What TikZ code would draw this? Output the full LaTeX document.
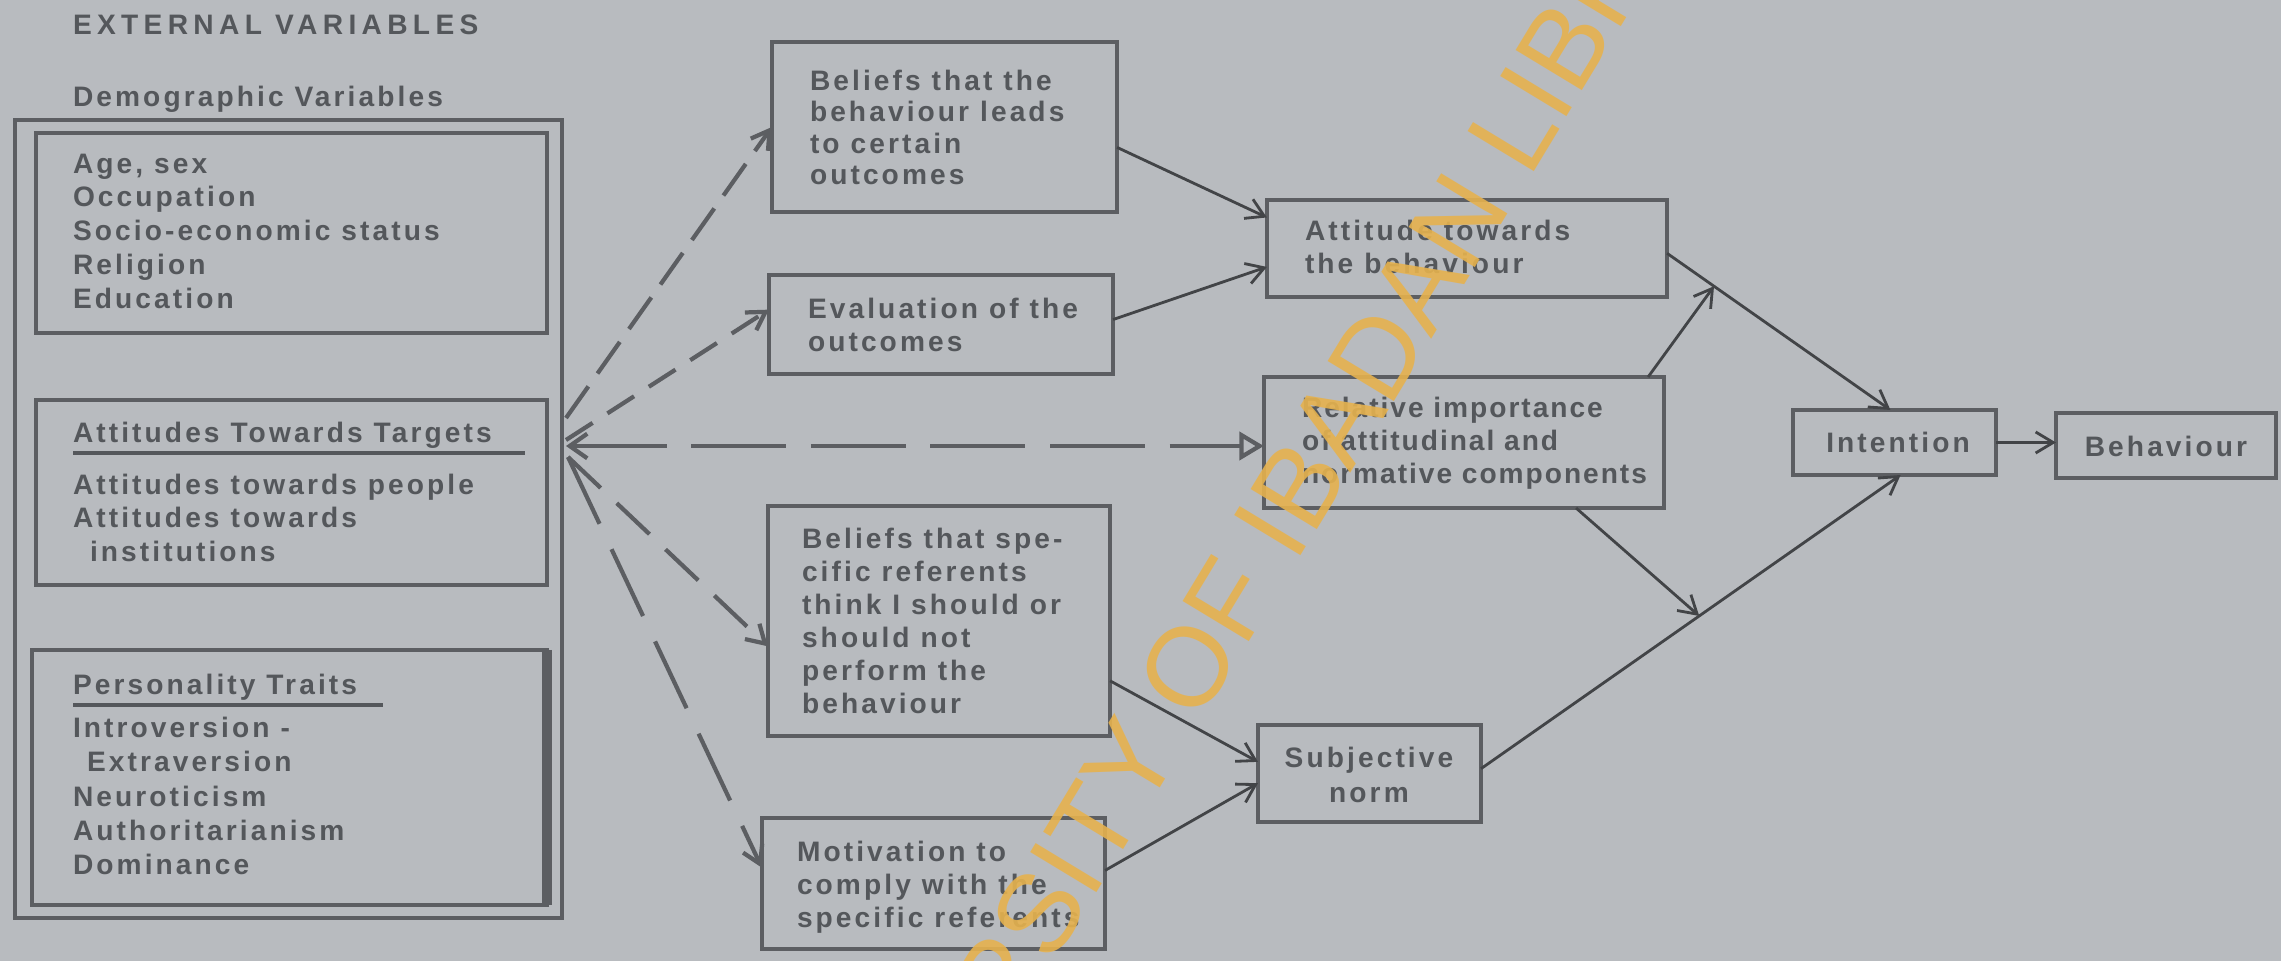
\documentclass[tikz,border=0pt]{standalone}
\usepackage{fontspec}
\setmainfont{Liberation Sans}
\newfontfamily\lab{Liberation Sans}[LetterSpace=11]
\newfontfamily\labn{Liberation Sans}[LetterSpace=7]
\newfontfamily\hdr{Liberation Sans}[LetterSpace=19]
\newfontfamily\wmf{Liberation Sans}
\usetikzlibrary{calc,arrows.meta}
\definecolor{bgc}{RGB}{184,187,191}
\definecolor{inkc}{RGB}{84,87,91}
\definecolor{linec}{RGB}{92,94,98}
\definecolor{arrc}{RGB}{66,68,71}
\definecolor{wmc}{RGB}{230,178,78}
\begin{document}
\begin{tikzpicture}[x=0.01cm,y=-0.01cm,
  box/.style={draw=linec, line width=1.15pt, inner sep=0pt, outer sep=0pt},
  lbl/.style={inner sep=0pt, outer sep=0pt, text=inkc, align=left, anchor=north west},
  one/.style={inner sep=0pt, outer sep=0pt, text=inkc, anchor=base west, font=\lab\bfseries\fontsize{8}{9.6}\selectfont},
  conn/.style={draw=arrc, line width=0.8pt, -{Straight Barb[length=5pt,width=6pt]}},
  dsh/.style={draw=linec, line width=1.2pt, -{Straight Barb[length=5pt,width=6pt]}},
  uline/.style={draw=inkc, line width=1.1pt}
]
\useasboundingbox (0,0) rectangle (2281,961);
\clip (0,0) rectangle (2281,961);
\fill[bgc] (0,0) rectangle (2281,961);

% headings
\node[one, font=\hdr\bfseries\fontsize{8}{9.6}\selectfont] (ext) at (73,35) {EXTERNAL VARIABLES};
\node[one] (demo) at (73,107) {Demographic Variables};

% left column boxes
\node[box, minimum width=5.47cm, minimum height=7.98cm] (outer) at (288.5,519) {};
\node[box, minimum width=5.11cm, minimum height=2.00cm] (d) at (291.5,233) {};
\node[box, minimum width=5.11cm, minimum height=1.85cm] (a) at (291.5,492.5) {};
\node[box, minimum width=5.15cm, minimum height=2.55cm] (p) at (289.5,777.5) {};
\draw[draw=linec, line width=3pt] (p.north east) -- (p.south east);

\node[lbl, font=\lab\bfseries\fontsize{8}{9.6}\selectfont] (dtxt) at (73,149.4)
  {\strut Age, sex\\\strut Occupation\\\strut Socio-economic status\\\strut Religion\\\strut Education};

\node[one] (tgt) at (73,443) {Attitudes Towards Targets};
\draw[uline] ($(tgt.base west)+(0,10)$) -- ($(tgt.base west)+(452,10)$);
\node[lbl, font=\lab\bfseries\fontsize{8}{9.6}\selectfont] (atxt) at (73,470.4)
  {\strut Attitudes towards people\\\strut Attitudes towards\\\strut\hspace*{0.17cm}institutions};

\node[one] (pers) at (73,695) {Personality Traits};
\draw[uline] ($(pers.base west)+(0,10)$) -- ($(pers.base west)+(310,10)$);
\node[lbl, font=\lab\bfseries\fontsize{8}{9.7}\selectfont] (ptxt) at (73,714)
  {\strut Introversion -\\\strut\hspace*{0.14cm}Extraversion\\\strut Neuroticism\\\strut Authoritarianism\\\strut Dominance};

% middle column
\node[box, minimum width=3.45cm, minimum height=1.70cm] (b1) at (944.5,127) {};
\node[lbl, font=\lab\bfseries\fontsize{8}{9.0}\selectfont] (b1t) at (810,67.9)
  {\strut Beliefs that the\\\strut behaviour leads\\\strut to certain\\\strut outcomes};
\node[box, minimum width=3.44cm, minimum height=0.99cm] (b2) at (941,324.5) {};
\node[lbl, font=\lab\bfseries\fontsize{8}{9.6}\selectfont] (b2t) at (808,294.4)
  {\strut Evaluation of the\\\strut outcomes};
\node[box, minimum width=3.42cm, minimum height=2.30cm] (bs) at (939,621) {};
\node[lbl, font=\lab\bfseries\fontsize{8}{9.39}\selectfont] (bst) at (802,524.9)
  {\strut Beliefs that spe-\\\strut cific referents\\\strut think I should or\\\strut should not\\\strut perform the\\\strut behaviour};
\node[box, minimum width=3.43cm, minimum height=1.31cm] (mo) at (933.5,883.5) {};
\node[lbl, font=\lab\bfseries\fontsize{8}{9.25}\selectfont] (mot) at (797,839.2)
  {\strut Motivation to\\\strut comply with the\\\strut specific referents};

% right column
\node[box, minimum width=4.00cm, minimum height=0.97cm] (at) at (1467,248.5) {};
\node[lbl, font=\lab\bfseries\fontsize{8}{9.39}\selectfont] (att) at (1305,216.9)
  {\strut Attitude towards\\\strut the behaviour};
\node[box, minimum width=4.00cm, minimum height=1.31cm] (ri) at (1464,442.5) {};
\node[lbl, font=\labn\bfseries\fontsize{8}{9.39}\selectfont] (rit) at (1302,393.9)
  {\strut Relative importance\\\strut of attitudinal and\\\strut normative components};
\node[box, minimum width=2.23cm, minimum height=0.97cm] (sn) at (1369.5,773.5) {};
\node[lbl, anchor=north, align=center, font=\lab\bfseries\fontsize{8}{9.96}\selectfont] (snt) at (1369,742.5)
  {\strut Subjective\\\strut norm};
\node[box, minimum width=2.03cm, minimum height=0.65cm] (in) at (1894.5,442.5) {};
\node[one, anchor=base] (int) at (1898,453) {Intention};
\node[box, minimum width=2.20cm, minimum height=0.65cm] (be) at (2166,445.5) {};
\node[one, anchor=base] (bet) at (2166,457) {Behaviour};

% dashed connectors from attitudes towards targets
\coordinate (o1) at (566,418);
\coordinate (o2) at (566,440);
\coordinate (o3) at (566,446);
\coordinate (o4) at (568,457);
\draw[dsh, dash pattern=on 11pt off 4.5pt] (o1) -- ($(b1.north west)!0.5!(b1.south west)$);
\draw[dsh, dash pattern=on 9pt off 5pt] (o2) -- ($(b2.north west)!0.35!(b2.south west)$);
\draw[draw=linec, line width=1.2pt, dash pattern=on 27pt off 7pt,
  {Straight Barb[length=5pt,width=7pt]}-{Triangle[open,length=7pt,width=8pt]}] (o3) -- (o3 -| ri.west);
\draw[dsh, dash pattern=on 12.8pt off 6.3pt] (o4) -- ($(bs.north west)!0.61!(bs.south west)$);
\draw[dsh, dash pattern=on 21pt off 8pt] (o4) -- ($(mo.north west)!0.38!(mo.south west)$);

% solid connectors
\coordinate (atout) at ($(at.north east)!0.55!(at.south east)$);
\coordinate (intop) at ($(in.north west)!0.48!(in.north east)$);
\coordinate (j1) at ($(atout)!0.21!(intop)$);
\coordinate (snout) at ($(sn.north east)!0.45!(sn.south east)$);
\coordinate (inbot) at ($(in.south west)!0.53!(in.south east)$);
\coordinate (j2) at ($(snout)!0.52!(inbot)$);

\draw[conn] ($(b1.north east)!0.62!(b1.south east)$) -- ($(at.north west)!0.18!(at.south west)$);
\draw[conn] ($(b2.north east)!0.45!(b2.south east)$) -- ($(at.north west)!0.69!(at.south west)$);
\draw[conn] (atout) -- (intop);
\draw[conn] ($(ri.north west)!0.96!(ri.north east)$) -- (j1);
\draw[conn] ($(ri.south west)!0.78!(ri.south east)$) -- (j2);
\draw[conn] ($(bs.north east)!0.76!(bs.south east)$) -- ($(sn.north west)!0.38!(sn.south west)$);
\draw[conn] ($(mo.north east)!0.40!(mo.south east)$) -- ($(sn.north west)!0.60!(sn.south west)$);
\draw[conn] (snout) -- (inbot);
\draw[conn] (in.east) -- (in.east -| be.west);

% watermark
\node[rotate=58.8, inner sep=0pt, text=wmc, opacity=0.9, font=\wmf\fontsize{32}{36}\selectfont] (wm) at (1272,529) {UNIVERSITY OF IBADAN LIBRARY};
\end{tikzpicture}
\end{document}
